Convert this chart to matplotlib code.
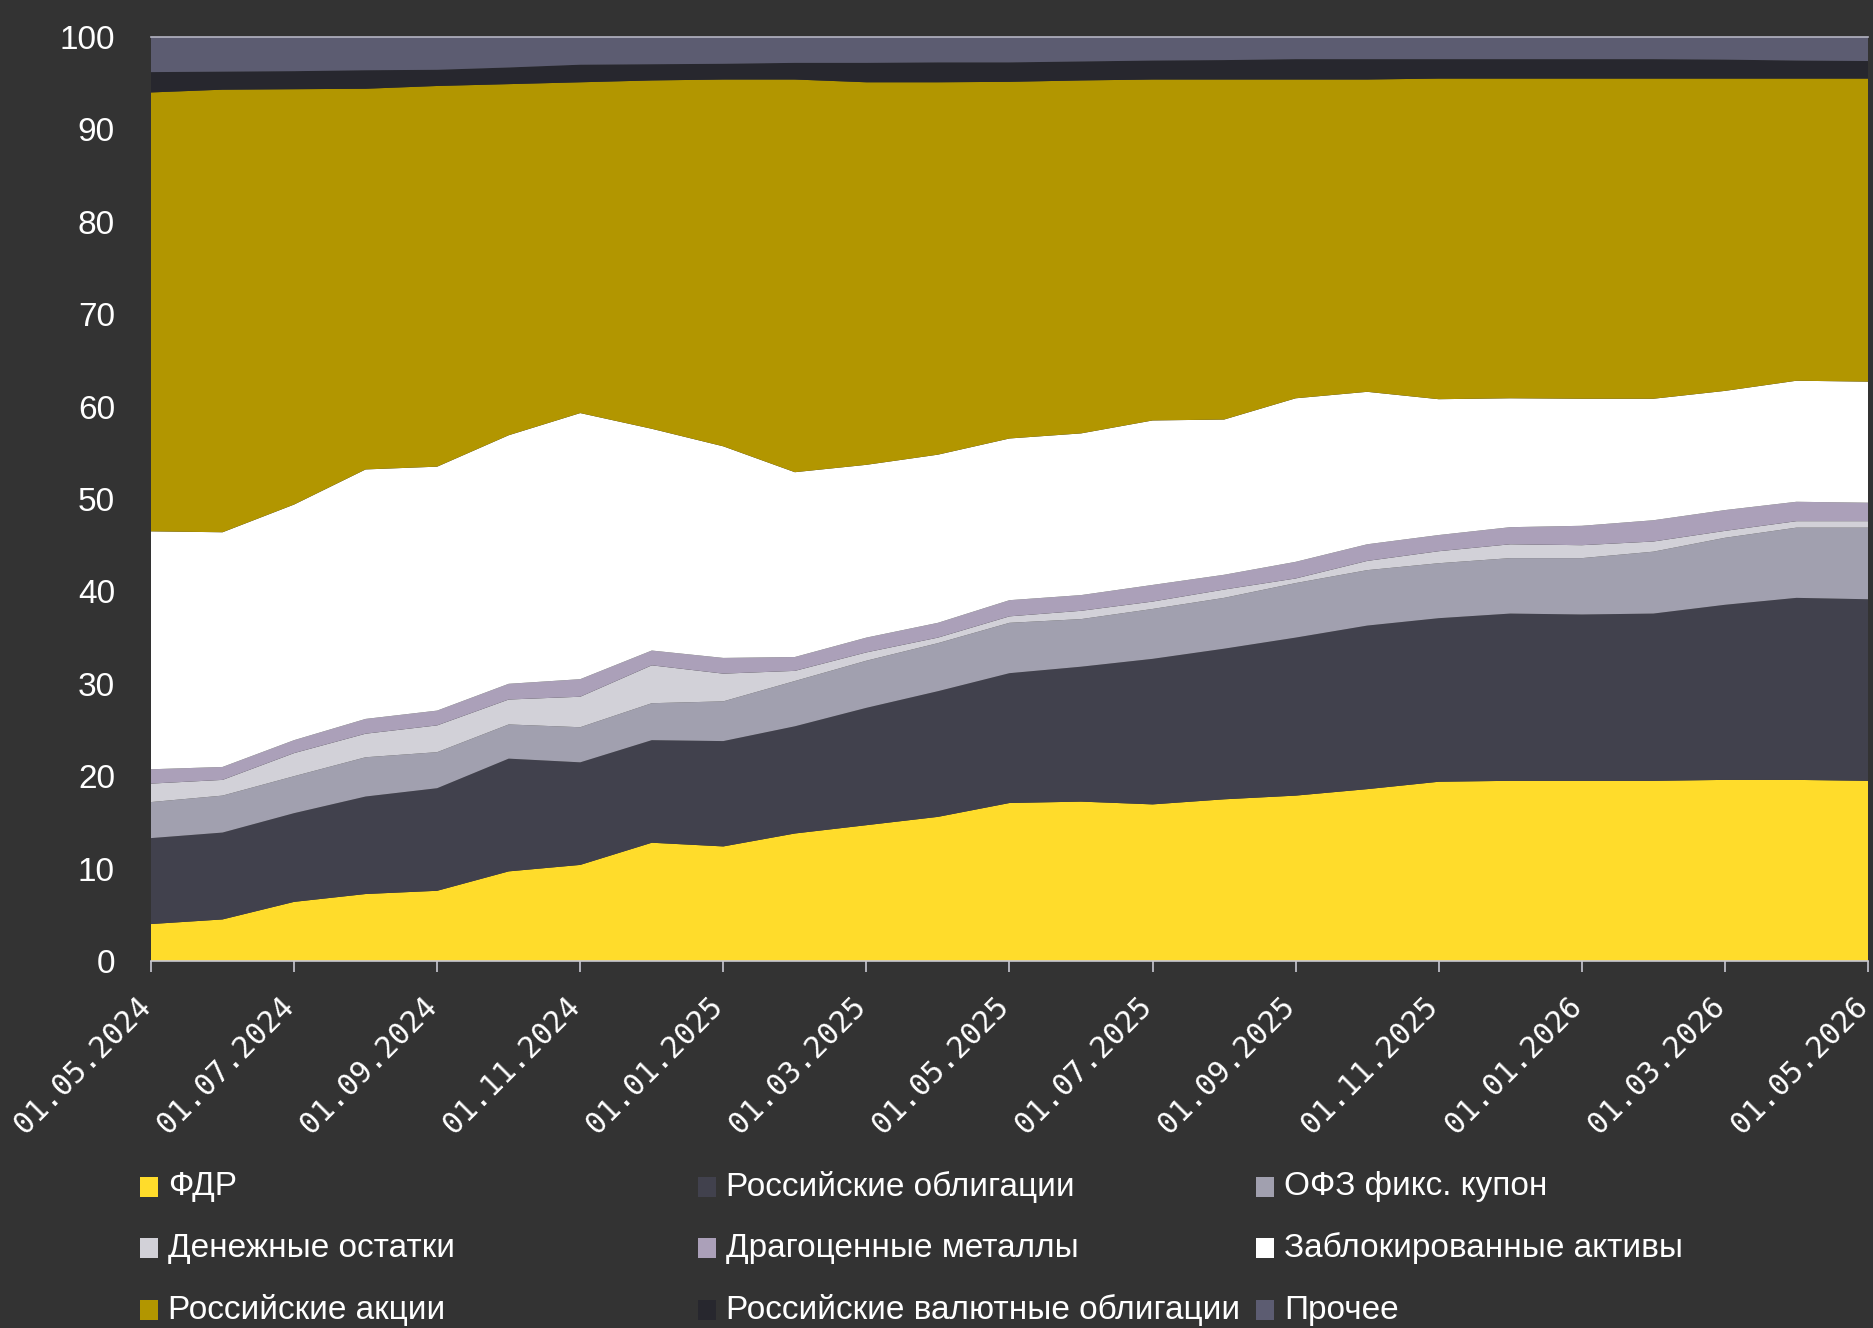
import matplotlib
matplotlib.use("Agg")
import matplotlib.pyplot as plt
import matplotlib.transforms as mtransforms
from matplotlib.patches import Rectangle
import numpy as np

plt.rcParams['font.family'] = ['Liberation Sans', 'DejaVu Sans']

# ---------------- data ----------------
dates = ["01.05.2024", "01.06.2024", "01.07.2024", "01.08.2024", "01.09.2024",
         "01.10.2024", "01.11.2024", "01.12.2024", "01.01.2025", "01.02.2025",
         "01.03.2025", "01.04.2025", "01.05.2025", "01.06.2025", "01.07.2025",
         "01.08.2025", "01.09.2025", "01.10.2025", "01.11.2025", "01.12.2025",
         "01.01.2026", "01.02.2026", "01.03.2026", "01.04.2026", "01.05.2026"]

fdr = [4.0, 4.5, 6.4, 7.25, 7.6, 9.7, 10.4, 12.8, 12.4, 13.8, 14.7, 15.6, 17.1,
       17.25, 16.95, 17.5, 17.9, 18.6, 19.4, 19.5, 19.5, 19.5, 19.6, 19.6, 19.5]
ru_bonds = [9.3, 9.4, 9.6, 10.55, 11.1, 12.2, 11.1, 11.1, 11.4, 11.6, 12.7, 13.6,
            14.05, 14.6, 15.75, 16.3, 17.1, 17.7, 17.7, 18.1, 18.0, 18.1, 18.95,
            19.7, 19.65]
ofz_fixed = [3.9, 4.0, 4.0, 4.25, 3.9, 3.7, 3.8, 4.0, 4.3, 4.9, 5.1, 5.2, 5.45,
             5.15, 5.4, 5.5, 5.9, 6.0, 5.95, 6.0, 6.1, 6.7, 7.25, 7.6, 7.75]
cash = [2.0, 1.7, 2.5, 2.55, 2.9, 2.7, 3.3, 4.1, 3.0, 1.1, 0.9, 0.6, 0.7, 0.9,
        0.8, 0.9, 0.5, 1.0, 1.3, 1.5, 1.4, 1.1, 0.75, 0.7, 0.7]
metals = [1.55, 1.4, 1.4, 1.6, 1.6, 1.7, 1.9, 1.6, 1.7, 1.5, 1.6, 1.6, 1.75, 1.7,
          1.8, 1.6, 1.8, 1.8, 1.75, 1.85, 2.1, 2.3, 2.25, 2.1, 2.0]
blocked = [25.75, 25.4, 25.5, 27.0, 26.4, 26.9, 28.8, 24.0, 22.9, 20.0, 18.7,
           18.2, 17.5, 17.5, 17.8, 16.8, 17.7, 16.5, 14.7, 13.95, 13.75, 13.15,
           12.9, 13.1, 13.1]
ru_equity = [47.5, 47.9, 44.95, 41.2, 41.2, 38.0, 35.8, 37.7, 39.7, 42.5, 41.4,
             40.3, 38.6, 38.2, 36.9, 36.8, 34.5, 33.8, 34.7, 34.6, 34.65, 34.65,
             33.8, 32.7, 32.8]
ru_fx_bonds = [2.2, 1.95, 1.95, 2.0, 1.75, 1.8, 1.9, 1.75, 1.7, 1.8, 2.1, 2.15,
               2.1, 2.05, 2.05, 2.1, 2.2, 2.2, 2.1, 2.1, 2.1, 2.1, 2.05, 1.95, 1.9]
other = [3.8, 3.75, 3.7, 3.6, 3.55, 3.3, 3.0, 2.95, 2.9, 2.8, 2.8, 2.75, 2.75,
         2.65, 2.55, 2.5, 2.4, 2.4, 2.4, 2.4, 2.4, 2.4, 2.45, 2.55, 2.6]

labels = ["ФДР", "Российские облигации", "ОФЗ фикс. купон",
          "Денежные остатки", "Драгоценные металлы", "Заблокированные активы",
          "Российские акции", "Российские валютные облигации", "Прочее"]
colors = ["#FFDC2B", "#41414D", "#A1A0AF", "#D2D1D8", "#ABA0B9", "#FFFFFF",
          "#B29600", "#27272E", "#5C5C71"]
yticks = [0, 10, 20, 30, 40, 50, 60, 70, 80, 90, 100]

series = [fdr, ru_bonds, ofz_fixed, cash, metals, blocked, ru_equity,
          ru_fx_bonds, other]

# ---------------- figure ----------------
BG = "#333333"
W, H = 1873, 1328
fig = plt.figure(figsize=(W / 100, H / 100), dpi=100, facecolor=BG)
ax = fig.add_axes([151 / W, 1 - 961 / H, (1868 - 151) / W, (961 - 37) / H])
ax.set_facecolor(BG)

x = np.arange(len(dates))
ax.stackplot(x, *series, colors=colors, linewidth=0, antialiased=True)

ax.set_xlim(0, len(dates) - 1)
ax.set_ylim(0, 100)

ax.set_yticks(yticks)
ax.set_yticklabels([str(v) for v in yticks])
ax.tick_params(axis='y', length=0, pad=26, labelsize=24, labelcolor='white')

ax.set_xticks(x[::2])
ax.set_xticklabels(dates[::2], rotation=45, ha='right', va='center',
                   rotation_mode='anchor', family=['DejaVu Sans Mono'])
ax.tick_params(axis='x', direction='out', length=8, width=1.2,
               color='#C8C8D2', labelsize=21.5, labelcolor='white', pad=21)
shift = mtransforms.ScaledTranslation(-5 / 100, 0, fig.dpi_scale_trans)
for lbl in ax.get_xticklabels():
    lbl.set_transform(lbl.get_transform() + shift)

for side in ['left', 'right']:
    ax.spines[side].set_visible(False)
ax.spines['bottom'].set_color('#C8C8D2')
ax.spines['bottom'].set_linewidth(1.2)
ax.spines['top'].set_color('#B4B4C2')
ax.spines['top'].set_linewidth(1.2)

# ---------------- legend (3 x 3, row-major) ----------------
col_x = [140, 698, 1256]
row_y = [1187, 1248, 1310]
for i, (lab, col) in enumerate(zip(labels, colors)):
    r, c = divmod(i, 3)
    x0 = col_x[c]
    yc = row_y[r]
    fig.add_artist(Rectangle((x0 / W, 1 - (yc + 10) / H), 18 / W, 20 / H,
                             transform=fig.transFigure, facecolor=col,
                             edgecolor='none'))
    fig.text((x0 + 28) / W, 1 - yc / H, lab, color='white', fontsize=24,
             ha='left', va='center')

fig.savefig("out.png", dpi=100, facecolor=BG)
